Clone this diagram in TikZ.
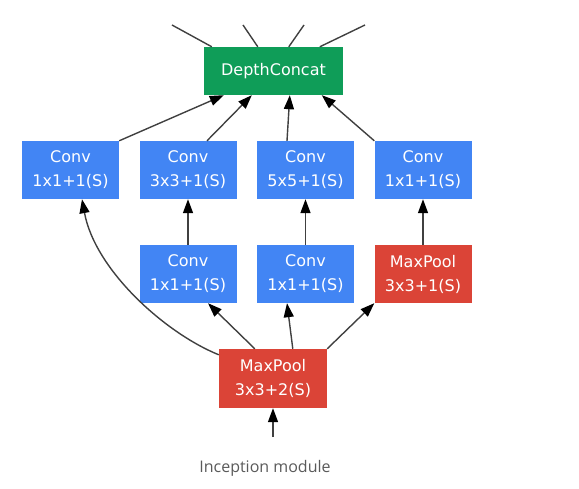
\documentclass[tikz,border=0pt]{standalone}
\usepackage{fontspec}
\setmainfont{DejaVu Sans}
\newfontfamily\capfont{Open Sans}
\usetikzlibrary{arrows.meta}
\definecolor{gblue}{HTML}{4285F4}
\definecolor{gred}{HTML}{DB4437}
\definecolor{ggreen}{HTML}{0F9D58}
\definecolor{capgray}{HTML}{5A5A5A}
\tikzset{
  box/.style={rectangle, inner sep=0pt, text=white, align=center,
    font=\fontsize{16}{24}\selectfont},
  convbox/.style={box, fill=gblue, minimum width=97pt, minimum height=58pt},
  poolbox/.style={box, fill=gred},
  catbox/.style={box, fill=ggreen, minimum width=139pt, minimum height=48pt},
  edge/.style={line width=1.4pt, draw=black!75,
    -{Triangle[length=14pt,width=10pt,color=black]}},
  plain/.style={line width=1.4pt, draw=black!75}
}
\begin{document}
\begin{tikzpicture}[x=1pt,y=-1pt]
\useasboundingbox (0,0) rectangle (579,489);
\node[catbox] (dc) at (273.5,71) {DepthConcat};
\node[convbox] (c1) at (70.5,170) {Conv\\1x1+1(S)};
\node[convbox] (c2) at (188,170) {Conv\\3x3+1(S)};
\node[convbox] (c3) at (305.5,170) {Conv\\5x5+1(S)};
\node[convbox] (c4) at (423,170) {Conv\\1x1+1(S)};
\node[convbox] (p2) at (188,274) {Conv\\1x1+1(S)};
\node[convbox] (p3) at (305.5,274) {Conv\\1x1+1(S)};
\node[poolbox, minimum width=97pt, minimum height=58pt] (pm) at (423,274) {MaxPool\\3x3+1(S)};
\node[poolbox, minimum width=108pt, minimum height=59pt] (mp) at (273,378.5) {MaxPool\\3x3+2(S)};
\coordinate (in) at (273,437);
\coordinate (o1) at (172,25);
\coordinate (o2) at (243,25);
\coordinate (o3) at (304,25);
\coordinate (o4) at (365,25);
\node[font=\capfont\fontsize{16}{18}\selectfont, text=capgray] (cap) at (265,468) {Inception module};
% outgoing
\draw[plain] ([xshift=8pt]dc.north west) -- (o1);
\draw[plain] ([xshift=54pt]dc.north west) -- (o2);
\draw[plain] ([xshift=85pt]dc.north west) -- (o3);
\draw[plain] ([xshift=116pt]dc.north west) -- (o4);
% to concat
\draw[edge] (c1.north east) -- ([xshift=20pt]dc.south west);
\draw[edge] ([xshift=19pt]c2.north) -- ([xshift=48pt]dc.south west);
\draw[edge] ([xshift=-18.5pt]c3.north) -- ([xshift=86pt]dc.south west);
\draw[edge] (c4.north west) -- ([xshift=118pt]dc.south west);
% vertical
\draw[edge] (p2.north) -- (c2.south);
\draw[edge] (p3.north) -- (c3.south);
\draw[edge] (pm.north) -- (c4.south);
% from bottom maxpool
\draw[edge] ([yshift=-6pt]mp.north west) .. controls (165,333) and (95,270) .. ([xshift=11.5pt]c1.south);
\draw[edge] ([xshift=36pt]mp.north west) -- ([xshift=20pt]p2.south);
\draw[edge] ([xshift=74pt]mp.north west) -- ([xshift=-18.5pt]p3.south);
\draw[edge] (mp.north east) -- (pm.south west);
\draw[edge] (in) -- (mp.south);
\end{tikzpicture}
\end{document}
